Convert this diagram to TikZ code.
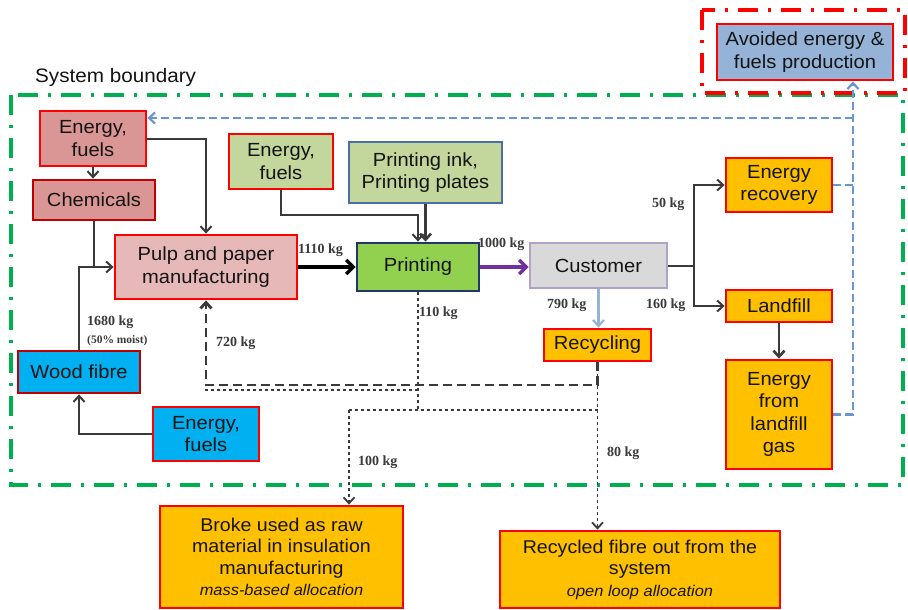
\documentclass[tikz,border=0pt]{standalone}
\usepackage{fontspec}
\usetikzlibrary{arrows.meta,calc}
\newfontfamily\boxfont[FakeStretch=1.06]{Liberation Sans}
\newfontfamily\lblfont{Liberation Serif}

\definecolor{rosy}{HTML}{D99694}
\definecolor{rosylight}{HTML}{E6B9B8}
\definecolor{olivegreen}{HTML}{C3D69B}
\definecolor{leaf}{HTML}{92D050}
\definecolor{navy}{HTML}{1F3864}
\definecolor{steel}{HTML}{4A6FA5}
\definecolor{greylight}{HTML}{D9D9D9}
\definecolor{lavender}{HTML}{B3A2C7}
\definecolor{amber}{HTML}{FFC000}
\definecolor{cyanblue}{HTML}{00B0F0}
\definecolor{skyblue}{HTML}{95B3D7}
\definecolor{dashblue}{HTML}{6A96D0}
\definecolor{darkred}{HTML}{C00000}
\definecolor{linegray}{HTML}{3A3A3A}
\definecolor{bgreen}{HTML}{00B050}
\definecolor{violet}{HTML}{7030A0}
\definecolor{txt}{HTML}{141414}

\tikzset{
  box/.style={draw=red, line width=2.8pt, align=center, inner sep=1pt,
    text=txt, font={\boxfont\fontsize{19}{22.5}\selectfont}},
  tip/.style={-{Straight Barb[length=6pt,width=11pt]}},
  conn/.style={draw=linegray, line width=2pt},
  lbl/.style={anchor=west, inner sep=0pt, text=linegray,
    font={\lblfont\bfseries\fontsize{14}{15}\selectfont}},
  bound/.style={line width=3.2pt, dash pattern=on 20pt off 10pt on 3pt off 10pt},
  bluedash/.style={draw=dashblue, line width=2.2pt, dash pattern=on 8pt off 4pt},
  coarsedash/.style={draw=linegray, line width=2.8pt, dash pattern=on 9pt off 5pt},
  finedot/.style={draw=linegray, line width=1.8pt, dash pattern=on 3pt off 3pt},
}

\begin{document}
\begin{tikzpicture}[x=1pt,y=-1pt]
\useasboundingbox[fill=white] (0,0) rectangle (908,610);

% boundaries
\draw[bound, draw=bgreen] (11,95) rectangle (903,485);
\draw[bound, draw=red] (702,10) rectangle (905,93);
\node[anchor=west, inner sep=0pt, text=txt, font={\boxfont\fontsize{19.5}{22}\selectfont}]
  (sysb) at (35,77) {System boundary};

% process boxes
\node[box, fill=rosy, minimum width=106, minimum height=55] (efTop) at (93,138.5) {Energy,\\fuels};
\node[box, fill=rosy, draw=darkred, minimum width=122, minimum height=40] (chem) at (94,200) {Chemicals};
\node[box, fill=rosylight, minimum width=182, minimum height=64] (pulp) at (206,267) {Pulp and paper\\manufacturing};
\node[box, fill=olivegreen, minimum width=104, minimum height=55] (efGreen) at (281,161.5) {Energy,\\fuels};
\node[box, fill=olivegreen, draw=steel, minimum width=153, minimum height=61] (ink) at (425.5,172.5) {Printing ink,\\Printing plates};
\node[box, fill=leaf, draw=navy, minimum width=122, minimum height=48] (print) at (418,267) {Printing};
\node[box, fill=greylight, draw=lavender, minimum width=137, minimum height=45] (cust) at (598.5,265.5) {Customer};
\node[box, fill=amber, minimum width=106, minimum height=54] (erec) at (779,185) {Energy\\recovery};
\node[box, fill=amber, minimum width=106, minimum height=32] (land) at (779,306) {Landfill};
\node[box, fill=amber, minimum width=106, minimum height=109] (eland) at (779,414.5) {Energy\\from\\landfill\\gas};
\node[box, fill=amber, minimum width=107, minimum height=32] (recyc) at (597.5,345) {Recycling};
\node[box, fill=cyanblue, draw=darkred, minimum width=122, minimum height=42] (wood) at (79,372) {Wood fibre};
\node[box, fill=cyanblue, minimum width=106, minimum height=54] (efBlue) at (206,434) {Energy,\\fuels};
\node[box, fill=skyblue, minimum width=176, minimum height=56] (avoid) at (805,52) {Avoided energy \&\\fuels production};
\node[box, fill=amber, minimum width=243, minimum height=102, font={\boxfont\fontsize{18.5}{21.5}\selectfont}] (broke) at (281.5,557)
  {Broke used as raw\\material in insulation\\manufacturing\\{\itshape\fontsize{15.5}{20}\selectfont mass-based allocation}};
\node[box, fill=amber, minimum width=280, minimum height=77, font={\boxfont\fontsize{18.5}{21.5}\selectfont}] (recf) at (640,569.5)
  {Recycled fibre out from the\\system\\{\itshape\fontsize{15.5}{20}\selectfont open loop allocation}};

% helper points
\coordinate (gTurn) at (418,215);
\coordinate (split) at (694,265.5);
\coordinate (bv) at (853,118);
\coordinate (r1) at (206,385);
\coordinate (p1) at (418,390);
\coordinate (p2) at (418,410);
\coordinate (b1) at (349,410);

% solid flows
\draw[conn, tip] (efTop.east) -| (pulp.north);
\draw[conn, tip] (efTop.south) -- (efTop.south |- chem.north);
\draw[conn] (chem.south) -- (chem.south |- pulp.west);
\draw[conn, tip] (wood.north) |- (pulp.west);
\draw[conn, tip] (efBlue.west) -| (wood.south);
\draw[draw=black, line width=3.4pt, -{Straight Barb[length=7pt,width=14pt]}] (pulp.east) -- (print.west);
\draw[conn, tip] (efGreen.south) |- (gTurn) -- (print.north);
\draw[conn, line width=2.6pt, tip] (ink.south) -- (ink.south |- print.north);
\draw[draw=violet, line width=3.4pt, -{Straight Barb[length=7pt,width=14pt]}] (print.east) -- (print.east -| cust.west);
\draw[conn] (cust.east) -- (split);
\draw[conn, tip] (split) |- (erec.west);
\draw[conn, tip] (split) |- (land.west);
\draw[draw=skyblue, line width=2.2pt, tip] (cust.south) -- (cust.south |- recyc.north);
\draw[conn, line width=2.6pt, tip] (land.south) -- (eland.north);

% avoided production credits
\draw[bluedash] (erec.east) -- (erec.east -| bv);
\draw[bluedash, tip] (eland.east) -| (bv |- avoid.south);
\draw[bluedash, tip] (bv) -- (bv -| efTop.east);

% broke and recycled fibre flows
\draw[coarsedash, tip] (recyc.south) |- (r1) -- (r1 |- pulp.south);
\draw[finedot] (print.south) -- (p2);
\draw[finedot] (p1) -- (p1 -| r1) -- (r1);
\draw[finedot] (b1) -- (recyc.south |- b1);
\draw[finedot, tip] (b1) -- (b1 |- broke.north);
\draw[finedot, tip] (recyc.south) -- (recyc.south |- recf.north);

% flow quantities
\node[lbl] (l1110) at (298,250) {1110 kg};
\node[lbl] (l1000) at (478,244) {1000 kg};
\node[lbl] (l50) at (652,204) {50 kg};
\node[lbl] (l160) at (646,305) {160 kg};
\node[lbl] (l790) at (547,305) {790 kg};
\node[lbl] (l110) at (419,313) {110 kg};
\node[lbl] (l720) at (216,343) {720 kg};
\node[lbl] (l1680) at (87,322) {1680 kg};
\node[lbl, font={\lblfont\bfseries\fontsize{11.5}{12}\selectfont}] (lmoist) at (87,341) {(50\% moist)};
\node[lbl] (l100) at (358,462) {100 kg};
\node[lbl] (l80) at (607,453) {80 kg};
\end{tikzpicture}
\end{document}
